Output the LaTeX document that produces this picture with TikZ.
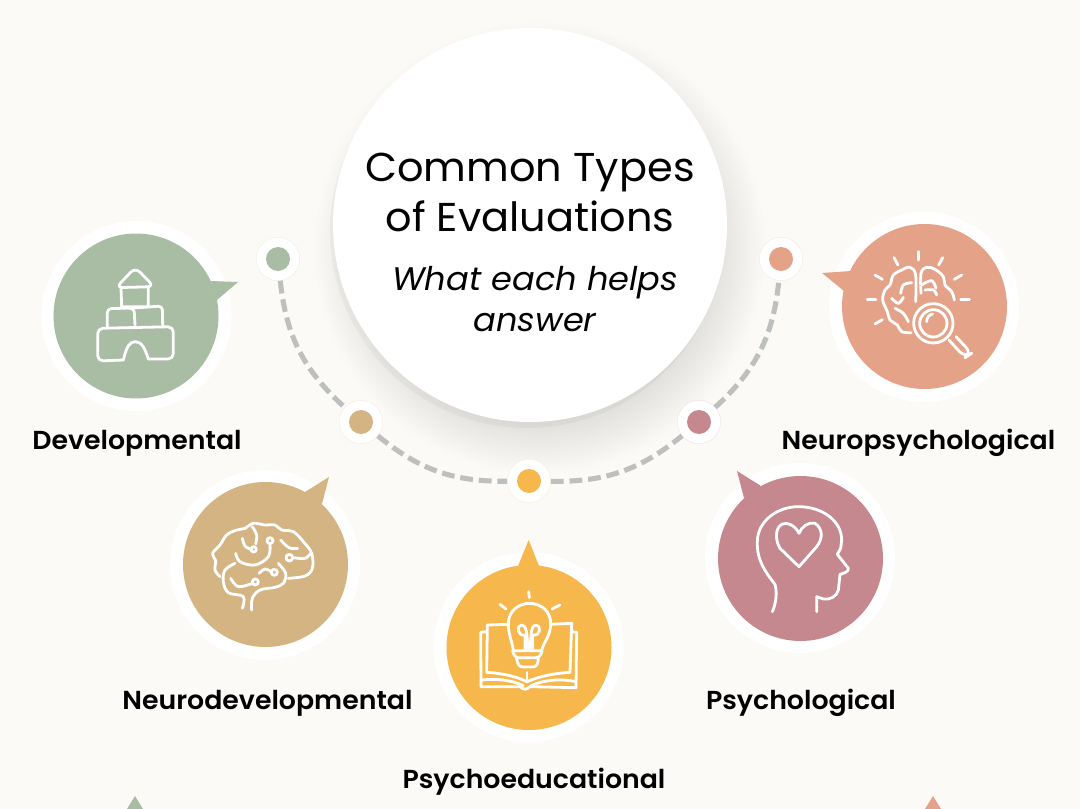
\documentclass[tikz,border=0pt]{standalone}
\usepackage{fontspec}
\setmainfont{Poppins}[ItalicFont={Poppins Italic},BoldFont={Poppins SemiBold},FakeStretch=1.03]
\definecolor{bgc}{HTML}{FBFAF6}
\definecolor{cgreen}{HTML}{A9BDA4}
\definecolor{ctan}{HTML}{D4B483}
\definecolor{corange}{HTML}{F6B84D}
\definecolor{crose}{HTML}{C4888E}
\definecolor{csalmon}{HTML}{E4A388}
\definecolor{cdash}{HTML}{BEBFBF}
\tikzset{
 ringb/.style={circle,fill=white,minimum size=142.5pt,inner sep=0pt},
 bubble/.style={circle,fill=#1,minimum size=123.75pt,inner sep=0pt},
 dotring/.style={circle,fill=white,draw=#1!25,line width=.3pt,minimum size=32.5pt,inner sep=0pt},
 dotc/.style={circle,fill=#1,minimum size=18pt,inner sep=0pt},
 conn/.style={draw=cdash,line width=3.8pt,dash pattern=on 9.6pt off 4.4pt},
 ico/.style={draw=white,line width=2.1pt,line cap=round,line join=round},
 lab/.style={font=\bfseries\fontsize{19.5pt}{22pt}\selectfont,anchor=base,text=black,inner sep=0pt},
 ttl/.style={font=\fontsize{30.2pt}{34pt}\selectfont,anchor=base,text=black,inner sep=0pt},
 sub/.style={font=\itshape\fontsize{24.5pt}{28pt}\selectfont,anchor=base,text=black,inner sep=0pt},
}
\begin{document}
\begin{tikzpicture}[x=0.75pt,y=-0.75pt]
\useasboundingbox (0,0) rectangle (1080,809);
\fill[bgc] (0,0) rectangle (1080,809);
% shadow of the centre disc
\foreach \r in {170,172,...,226}{
  \fill[black,opacity=.0042] (540,248) circle[radius=\r];
}
\fill[black,opacity=.03] (527,231) circle[radius=197];
% connector dots
\node[dotring=cgreen]  (d1) at (278,259) {};
\node[dotring=ctan]    (d2) at (361,422) {};
\node[dotring=corange] (d3) at (529,481) {};
\node[dotring=crose]   (d4) at (699,422) {};
\node[dotring=csalmon] (d5) at (781,259) {};
\draw[conn] (d1) to[bend right=21] (d2);
\draw[conn] (d2) to[bend right=20] (d3);
\draw[conn] (d3) to[bend right=20] (d4);
\draw[conn] (d4) to[bend right=21] (d5);
\node[dotc=cgreen]  (e1) at (d1) {};
\node[dotc=ctan]    (e2) at (d2) {};
\node[dotc=corange] (e3) at (d3) {};
\node[dotc=crose]   (e4) at (d4) {};
\node[dotc=csalmon] (e5) at (d5) {};
% centre disc
\node[circle,fill=white,minimum size=295.5pt,inner sep=0pt] (hub) at (530,225) {};
\node[ttl] (t1) at (530,182) {Common Types};
\node[ttl] (t2) at (530,231) {of Evaluations};
\node[sub] (t3) at (535,290) {What each helps};
\node[sub] (t4) at (535,331) {answer};
% bubbles
\node[ringb] (r1) at (136.5,316) {};
\fill[cgreen] (211,281) -- (238,282) -- (217,300) -- cycle;
\node[bubble=cgreen] (b1) at (136,316) {};
\node[ringb] (r2) at (265,565) {};
\fill[ctan] (305,492) -- (329,477) -- (322,504) -- cycle;
\node[bubble=ctan] (b2) at (265.5,564.5) {};
\node[ringb] (r3) at (528.5,647) {};
\fill[corange] (518,566) -- (528.7,540) -- (539,566) -- cycle;
\node[bubble=corange] (b3) at (529,647.5) {};
\node[ringb] (r4) at (800,558) {};
\fill[crose] (761,486) -- (737,471) -- (744,498) -- cycle;
\node[bubble=crose] (b4) at (800.5,558.5) {};
\node[ringb] (r5) at (924,307) {};
\fill[csalmon] (851,271) -- (822,273) -- (844,291) -- cycle;
\node[bubble=csalmon] (b5) at (924.5,306.5) {};
% icon: blocks
\begin{scope}[shift={(30,210)},x=.25pt,y=-.25pt,ico]
\draw[rounded corners=5pt] (258,233) -- (316,172) -- (372,230) -- cycle;
\draw (273,236) -- (275,290) -- (355,290) -- (355,236);
\draw[rounded corners=3pt] (232,350) -- (232,296) -- (312,294) -- (315,345);
\draw[rounded corners=3pt] (312,294) -- (397,288) -- (398,345);
\draw[rounded corners=4pt] (280,450) -- (203,453) -- (203,355) -- (430,350) -- (430,447) -- (355,447);
\draw (280,450) .. controls (290,410) and (298,395) .. (316,395) .. controls (335,395) and (345,415) .. (355,447);
\end{scope}
% icon: wired brain
\begin{scope}[shift={(165,470)},x=.25pt,y=-.25pt,ico]
\draw plot[smooth,tension=.6] coordinates {(165,320)(150,300)(152,272)(143,250)(165,225)(185,195)(215,180)(240,175)(265,160)(300,165)(330,165)(350,180)(385,185)(415,215)(440,250)(442,295)(420,318)(370,325)};
\draw plot[smooth,tension=.6] coordinates {(210,280)(180,300)(175,335)(190,368)(235,380)(232,415)};
\draw plot[smooth,tension=.6] coordinates {(260,420)(262,385)(285,360)(330,352)(355,340)(362,310)(340,280)};
\draw plot[smooth,tension=.6] coordinates {(232,205)(240,228)(258,238)};
\draw (266,238) circle[radius=8];
\draw plot[smooth,tension=.6] coordinates {(262,170)(275,195)(272,222)};
\draw (315,212) circle[radius=9];
\draw plot[smooth,tension=.6] coordinates {(315,222)(310,260)(270,285)(225,275)(212,250)};
\draw plot[smooth,tension=.6] coordinates {(347,210)(372,233)(398,235)};
\draw (373,263) circle[radius=10];
\draw plot[smooth,tension=.6] coordinates {(384,263)(420,265)(437,250)};
\draw plot[smooth,tension=.6] coordinates {(282,310)(300,297)(318,305)};
\draw (328,307) circle[radius=9];
\draw plot[smooth,tension=.6] coordinates {(197,325)(220,350)(262,340)};
\draw (271,336) circle[radius=9];
\end{scope}
% icon: bulb and book
\begin{scope}[shift={(430,535)},x=.25pt,y=-.25pt,ico]
\draw (250,345) .. controls (245,315) and (235,300) .. (235,265) .. controls (235,230) and (265,205) .. (298,205) .. controls (335,205) and (362,230) .. (362,265) .. controls (362,300) and (345,315) .. (335,345);
\draw (248,347) -- (336,347) .. controls (335,360) and (325,368) .. (318,368) -- (265,368) .. controls (258,368) and (250,360) .. (248,347);
\draw (260,368) .. controls (262,390) and (268,396) .. (280,396) -- (308,396) .. controls (320,396) and (325,385) .. (325,368);
\draw (285,345) -- (285,300) .. controls (262,305) and (258,270) .. (275,270) .. controls (288,270) and (292,290) .. (293,345);
\draw (308,345) -- (308,300) .. controls (332,305) and (335,270) .. (318,270) .. controls (305,270) and (302,290) .. (301,345);
\draw (296,170) -- (298,188);
\draw (210,208) -- (228,222);
\draw (390,210) -- (366,222);
\draw (235,268) -- (172,270) -- (170,412) .. controls (220,415) and (260,425) .. (291,440);
\draw (362,268) -- (425,265) -- (420,412) .. controls (370,415) and (325,425) .. (291,440);
\draw (291,412) -- (291,440);
\draw (170,290) -- (152,292) -- (153,455) -- (270,455) .. controls (280,465) and (290,465) .. (300,455) -- (438,458) -- (440,292) -- (425,290);
\draw (155,435) .. controls (200,430) and (245,435) .. (280,452);
\draw (438,440) .. controls (390,430) and (340,435) .. (303,452);
\end{scope}
% icon: head with heart
\begin{scope}[shift={(700,465)},x=.25pt,y=-.25pt,ico]
\draw (217,440) .. controls (228,415) and (232,385) .. (225,358) .. controls (195,320) and (170,285) .. (172,230) .. controls (172,170) and (230,125) .. (295,125) .. controls (370,125) and (425,170) .. (425,225) -- (422,250) -- (412,268) -- (445,310) .. controls (448,320) and (430,325) .. (420,328) -- (415,375) .. controls (410,395) and (390,405) .. (370,402) -- (350,395) -- (350,440);
\draw (297,205) .. controls (285,180) and (260,170) .. (245,178) .. controls (225,190) and (225,225) .. (240,250) -- (297,305) -- (350,245) .. controls (370,220) and (368,190) .. (345,175) .. controls (325,170) and (305,185) .. (297,205);
\end{scope}
% icon: brain with magnifier
\begin{scope}[shift={(810,210)},x=.25pt,y=-.25pt,ico]
\draw (325,125) -- (325,150);
\draw (252,143) -- (264,165);
\draw (398,143) -- (386,165);
\draw (195,195) -- (217,208);
\draw (455,195) -- (433,208);
\draw (172,268) -- (198,268);
\draw (452,268) -- (478,268);
\draw (195,342) -- (217,329);
\draw plot[smooth,tension=.6] coordinates {(317,275)(317,195)(300,172)(275,180)(250,195)(240,225)(225,240)(218,270)(232,305)(240,330)(262,345)(275,365)(303,368)};
\draw plot[smooth,tension=.6] coordinates {(333,250)(333,190)(350,172)(375,178)(400,200)(405,225)(425,245)(433,270)};
\draw plot[smooth,tension=.6] coordinates {(305,218)(280,225)(272,250)};
\draw plot[smooth,tension=.6] coordinates {(245,265)(265,280)(280,262)};
\draw plot[smooth,tension=.6] coordinates {(255,295)(280,310)(295,335)};
\draw plot[smooth,tension=.6] coordinates {(335,225)(365,212)(378,235)};
\draw plot[smooth,tension=.6] coordinates {(345,240)(370,240)(380,255)};
\fill[csalmon] (370,340) circle[radius=58];
\draw (370,340) circle[radius=59];
\draw (370,340) circle[radius=41];
\draw (350,335) .. controls (350,322) and (358,314) .. (368,312);
\draw[rounded corners=6pt] (417,390) -- (465,443) -- (485,430) -- (438,380);
\end{scope}
% labels
\node[lab] (l1) at (137,449) {Developmental};
\node[lab] (l2) at (267.5,709) {Neurodevelopmental};
\node[lab] (l3) at (534,788) {Psychoeducational};
\node[lab] (l4) at (801,709) {Psychological};
\node[lab] (l5) at (918.5,449) {Neuropsychological};
% cut-off markers at the lower edge
\fill[cgreen] (127,809) -- (135,796) -- (143,809) -- cycle;
\fill[csalmon] (925,809) -- (933,796) -- (941,809) -- cycle;
\end{tikzpicture}
\end{document}
